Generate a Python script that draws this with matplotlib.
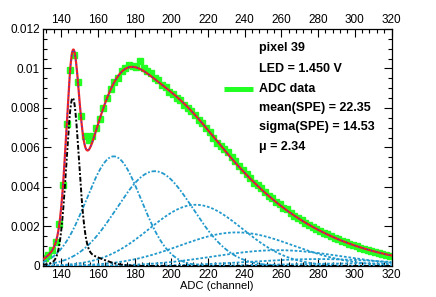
import numpy as np
import matplotlib
matplotlib.use("Agg")
import matplotlib.pyplot as plt
from matplotlib.ticker import MultipleLocator, FuncFormatter

# ADC spectrum, every second channel
adc = np.arange(131, 320, 2)
counts = [
    0.00040, 0.00055, 0.00080, 0.00120, 0.00215, 0.00410, 0.00720, 0.00990,
    0.01070, 0.00930, 0.00760, 0.00660, 0.00640, 0.00660, 0.00700, 0.00745,
    0.00800, 0.00850, 0.00895, 0.00930, 0.00950, 0.00985, 0.01000, 0.01020,
    0.01015, 0.01010, 0.01040, 0.01000, 0.00985, 0.00975, 0.00950, 0.00940,
    0.00915, 0.00905, 0.00880, 0.00870, 0.00850, 0.00840, 0.00815, 0.00800,
    0.00785, 0.00765, 0.00740, 0.00725, 0.00700, 0.00680, 0.00650, 0.00625,
    0.00610, 0.00590, 0.00575, 0.00550, 0.00530, 0.00505, 0.00485, 0.00465,
    0.00445, 0.00420, 0.00410, 0.00395, 0.00375, 0.00355, 0.00345, 0.00325,
    0.00315, 0.00295, 0.00290, 0.00270, 0.00255, 0.00245, 0.00235, 0.00220,
    0.00210, 0.00195, 0.00185, 0.00175, 0.00165, 0.00160, 0.00150, 0.00140,
    0.00135, 0.00125, 0.00120, 0.00112, 0.00107, 0.00100, 0.00093, 0.00088,
    0.00082, 0.00077, 0.00070, 0.00066, 0.00060, 0.00056, 0.00050,
]

# fit components
# pedestal = narrow core + small tail
ped_mean = [146.3, 152.0]
ped_sigma = [3.4, 10.0]
ped_height = [0.0080, 0.0006]

# n photo-electron gaussians
pe_mean = [168.7, 191.0, 213.4, 235.7, 258.1, 280.4, 302.8]
pe_sigma = [14.9, 20.8, 25.4, 31.0, 35.0, 38.0, 41.0]
pe_height = [0.00555, 0.0048, 0.0031, 0.0017, 0.0008, 0.00035, 0.00013]

labels = ["pixel 39", "LED = 1.450 V", "ADC data",
          "mean(SPE) = 22.35", "sigma(SPE) = 14.53", "\u03bc = 2.34"]


def gaus(x, h, m, s):
    return h * np.exp(-0.5 * ((x - m) / s) ** 2)


def main():
    plt.rcParams["font.family"] = ["Liberation Sans", "DejaVu Sans"]
    fig = plt.figure(figsize=(4.36, 2.97), dpi=100)
    ax = fig.add_axes([0.098, 0.1044, 0.800, 0.798])

    xf = np.linspace(130, 320, 1200)
    ped = np.zeros_like(xf)
    for h, m, s in zip(ped_height, ped_mean, ped_sigma):
        ped += gaus(xf, h, m, s)
    pes = [gaus(xf, h, m, s) for h, m, s in zip(pe_height, pe_mean, pe_sigma)]
    total = ped + np.sum(pes, axis=0)

    ax.plot(adc, counts, ls="none", marker="s", ms=4.3, color="#22ff22",
            mec="#22ff22", zorder=2)

    pe_styles = [(0, (2.5, 1.0, 1.0, 1.0)), (0, (2.5, 1.0, 1.0, 1.0)),
                 (0, (1.5, 1.0)), (0, (1.5, 1.0)), (0, (1.5, 1.0)),
                 (0, (1.5, 1.0)), (0, (1.5, 1.0))]
    for y, st in zip(pes, pe_styles):
        ax.plot(xf, y, color="#2299cc", lw=1.3, ls=st, zorder=3)
    ax.plot(xf, ped, color="black", lw=1.4, ls=(0, (2.5, 1.0, 1.0, 1.0)),
            zorder=3)

    ax.plot(xf, total, color="#ee2222", lw=1.6, zorder=4)
    ax.plot(xf, total, color="#2233ff", lw=0.8, ls=(0, (1, 3)), zorder=5)

    ax.set_xlim(130, 320)
    ax.set_ylim(0, 0.012)
    ax.xaxis.set_major_locator(MultipleLocator(20))
    ax.xaxis.set_minor_locator(MultipleLocator(4))
    ax.yaxis.set_major_locator(MultipleLocator(0.002))
    ax.yaxis.set_minor_locator(MultipleLocator(0.0005))
    ax.yaxis.set_major_formatter(FuncFormatter(lambda v, p: "%g" % round(v, 4)))
    ax.tick_params(which="both", direction="in", top=True, right=True,
                   labeltop=True, labelsize=8.5, width=0.8, pad=2)
    ax.tick_params(which="major", length=5.5)
    ax.tick_params(which="minor", length=2.8)
    ax.set_xlabel("ADC (channel)", fontsize=8, labelpad=0)
    for sp in ax.spines.values():
        sp.set_linewidth(0.9)

    ys = [0.92, 0.831, 0.747, 0.667, 0.586, 0.502]
    for t, y in zip(labels, ys):
        ax.text(0.621, y, t, transform=ax.transAxes, fontsize=9,
                fontweight="bold", va="center", ha="left")
    ax.plot([0.521, 0.602], [0.747, 0.747], transform=ax.transAxes,
            color="#22ff22", lw=3.6, solid_capstyle="butt")

    fig.savefig("out.png", dpi=100)


if __name__ == "__main__":
    main()
